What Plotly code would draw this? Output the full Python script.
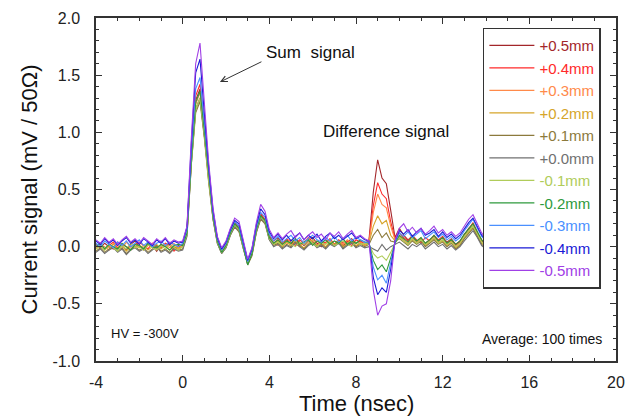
import plotly.graph_objects as go

# ---- data ----
time_ns = [
    -4.0, -3.8, -3.6, -3.4, -3.2, -3.0, -2.8, -2.6, -2.4, -2.2, -2.0, -1.8, -1.6, -1.4, -1.2, -1.0, -0.8, -0.6, -0.4, -0.2, 0.0,
    0.2, 0.4, 0.6, 0.8, 1.0, 1.2, 1.4, 1.6, 1.8, 2.0, 2.2, 2.4, 2.6, 2.8, 3.0, 3.2, 3.4, 3.6, 3.8, 4.0,
    4.2, 4.4, 4.6, 4.8, 5.0, 5.2, 5.4, 5.6, 5.8, 6.0, 6.2, 6.4, 6.6, 6.8, 7.0, 7.2, 7.4, 7.6, 7.8, 8.0, 8.2, 8.4,
    8.6, 8.8, 9.0, 9.2, 9.4, 9.6, 9.8,
    10.0, 10.2, 10.4, 10.6, 10.8, 11.0, 11.2, 11.4, 11.6, 11.8, 12.0, 12.2, 12.4, 12.6, 12.8, 13.0, 13.2, 13.4, 13.6, 13.8, 14.0,
]

sig_p05 = [
    0.02, -0.01, 0.03, 0.00, -0.02, 0.04, 0.01, -0.03, 0.02, 0.05, 0.00, -0.02, 0.03, 0.01, -0.04, 0.02, 0.00, 0.03, -0.02, 0.01, 0.02,
    0.16, 0.80, 1.28, 1.38, 1.04, 0.64, 0.29, 0.07, -0.02, 0.03, 0.13, 0.21, 0.16, 0.00, -0.14, -0.04, 0.16, 0.28, 0.23, 0.09,
    0.05, 0.08, 0.03, 0.06, 0.02, 0.07, 0.04, 0.01, 0.05, 0.08, 0.03, 0.00, 0.04, 0.06, 0.02, 0.05, 0.01, 0.04, 0.07, 0.03, 0.05, 0.02,
    0.06, 0.48, 0.76, 0.60, 0.55, 0.32, 0.08,
    0.16, 0.10, 0.06, 0.09, 0.04, 0.07, 0.03, 0.06, 0.09, 0.05, 0.08, 0.04, 0.07, 0.02, 0.05, 0.10, 0.16, 0.20, 0.12, 0.06, 0.03,
]
sig_p04 = [
    0.00, 0.03, -0.02, 0.01, 0.04, -0.01, 0.02, 0.00, -0.03, 0.02, 0.04, 0.01, -0.02, 0.03, 0.00, -0.01, 0.03, 0.01, -0.04, 0.00, 0.01,
    0.14, 0.82, 1.32, 1.42, 1.06, 0.63, 0.28, 0.06, -0.03, 0.02, 0.14, 0.22, 0.17, 0.02, -0.12, -0.03, 0.17, 0.29, 0.24, 0.10,
    0.03, 0.06, 0.02, 0.07, 0.04, 0.01, 0.06, 0.03, 0.08, 0.04, 0.01, 0.05, 0.03, 0.07, 0.02, 0.06, 0.03, 0.05, 0.01, 0.06, 0.04, 0.03,
    0.05, 0.36, 0.56, 0.46, 0.42, 0.22, 0.07,
    0.12, 0.08, 0.05, 0.10, 0.06, 0.03, 0.08, 0.05, 0.10, 0.06, 0.09, 0.03, 0.06, 0.01, 0.04, 0.11, 0.15, 0.21, 0.13, 0.05, 0.02,
]
sig_p03 = [
    -0.01, 0.02, 0.00, -0.03, 0.03, 0.01, -0.02, 0.04, 0.00, -0.01, 0.02, -0.03, 0.01, 0.03, -0.02, 0.00, 0.02, -0.01, 0.03, -0.02, 0.00,
    0.13, 0.76, 1.24, 1.35, 1.00, 0.60, 0.27, 0.05, -0.04, 0.01, 0.12, 0.19, 0.15, 0.00, -0.14, -0.06, 0.14, 0.26, 0.22, 0.08,
    0.04, 0.01, 0.05, 0.02, 0.06, 0.03, 0.00, 0.04, 0.07, 0.02, 0.05, 0.01, 0.03, 0.06, 0.01, 0.04, 0.02, 0.06, 0.03, 0.00, 0.04, 0.02,
    0.04, 0.30, 0.46, 0.37, 0.34, 0.18, 0.06,
    0.10, 0.06, 0.03, 0.07, 0.04, 0.08, 0.02, 0.05, 0.08, 0.04, 0.06, 0.02, 0.05, 0.00, 0.03, 0.09, 0.14, 0.18, 0.11, 0.04, 0.01,
]
sig_p02 = [
    -0.02, 0.01, -0.03, 0.00, 0.02, -0.02, 0.01, -0.04, 0.00, 0.02, -0.01, 0.01, -0.03, 0.00, 0.02, -0.02, 0.01, -0.03, 0.00, -0.01, 0.00,
    0.12, 0.74, 1.20, 1.30, 0.97, 0.58, 0.25, 0.04, -0.05, 0.00, 0.11, 0.18, 0.14, -0.01, -0.15, -0.07, 0.13, 0.25, 0.21, 0.07,
    0.02, 0.05, 0.00, 0.04, 0.01, 0.05, 0.02, -0.01, 0.03, 0.06, 0.01, 0.03, 0.00, 0.04, 0.02, 0.05, 0.00, 0.03, 0.05, 0.01, 0.03, 0.01,
    0.03, 0.18, 0.27, 0.20, 0.23, 0.10, 0.05,
    0.09, 0.05, 0.02, 0.06, 0.03, 0.06, 0.01, 0.04, 0.07, 0.03, 0.05, 0.01, 0.04, -0.01, 0.02, 0.08, 0.13, 0.17, 0.10, 0.03, 0.00,
]
sig_p01 = [
    -0.04, -0.01, -0.05, -0.02, 0.00, -0.04, -0.01, -0.06, -0.02, 0.00, -0.03, -0.01, -0.05, -0.02, 0.01, -0.04, -0.02, -0.05, -0.01, -0.03, -0.02,
    0.10, 0.72, 1.17, 1.27, 0.95, 0.56, 0.24, 0.03, -0.06, -0.01, 0.10, 0.17, 0.13, -0.02, -0.16, -0.08, 0.12, 0.24, 0.20, 0.06,
    0.01, 0.03, -0.01, 0.02, 0.00, 0.04, 0.01, -0.02, 0.02, 0.04, 0.00, 0.02, -0.01, 0.03, 0.01, 0.04, -0.01, 0.02, 0.04, 0.00, 0.02, 0.00,
    0.02, 0.10, 0.15, 0.08, 0.12, 0.05, 0.04,
    0.07, 0.04, 0.01, 0.05, 0.02, 0.05, 0.00, 0.03, 0.06, 0.02, 0.04, 0.00, 0.03, -0.02, 0.01, 0.07, 0.12, 0.16, 0.09, 0.02, -0.01,
]
sig_p00 = [
    -0.05, -0.02, -0.06, -0.03, -0.01, -0.05, -0.02, -0.07, -0.03, -0.01, -0.04, -0.02, -0.06, -0.03, 0.00, -0.05, -0.03, -0.06, -0.02, -0.04, -0.03,
    0.09, 0.72, 1.20, 1.30, 0.97, 0.57, 0.24, 0.03, -0.06, -0.01, 0.10, 0.18, 0.14, -0.02, -0.15, -0.07, 0.13, 0.25, 0.21, 0.06,
    0.00, 0.02, -0.02, 0.01, -0.01, 0.03, 0.00, -0.03, 0.01, 0.03, -0.01, 0.01, -0.02, 0.02, 0.00, 0.03, -0.02, 0.01, 0.03, -0.01, 0.01, -0.01,
    0.00, -0.02, -0.04, 0.02, -0.03, 0.00, 0.02,
    0.04, 0.01, -0.02, 0.02, 0.00, 0.03, -0.02, 0.01, 0.04, 0.00, 0.02, -0.02, 0.01, -0.03, 0.00, 0.05, 0.10, 0.14, 0.08, 0.01, -0.02,
]
sig_m01 = [
    -0.02, 0.01, -0.03, 0.02, -0.01, -0.04, 0.01, -0.02, 0.03, -0.01, 0.00, -0.03, 0.02, -0.01, -0.03, 0.01, -0.02, 0.02, -0.01, -0.03, 0.00,
    0.11, 0.73, 1.20, 1.30, 0.98, 0.58, 0.26, 0.04, -0.05, 0.00, 0.11, 0.19, 0.15, -0.01, -0.14, -0.06, 0.14, 0.26, 0.22, 0.07,
    0.02, 0.04, 0.01, 0.05, 0.02, 0.00, 0.04, 0.02, 0.06, 0.03, 0.00, 0.04, 0.02, 0.05, 0.01, 0.03, 0.05, 0.02, 0.00, 0.04, 0.02, 0.03,
    0.02, -0.06, -0.10, -0.08, -0.12, -0.05, 0.03,
    0.08, 0.05, 0.02, 0.07, 0.03, 0.06, 0.02, 0.04, 0.08, 0.03, 0.06, 0.02, 0.04, 0.00, 0.03, 0.09, 0.14, 0.18, 0.11, 0.04, 0.01,
]
sig_m02 = [
    0.00, 0.03, -0.02, 0.02, 0.00, -0.02, 0.03, 0.00, -0.03, 0.02, 0.01, -0.02, 0.03, 0.00, -0.01, 0.02, 0.00, -0.03, 0.01, 0.02, 0.01,
    0.12, 0.76, 1.26, 1.36, 1.02, 0.61, 0.27, 0.05, -0.05, 0.01, 0.12, 0.20, 0.16, 0.00, -0.16, -0.06, 0.15, 0.27, 0.23, 0.08,
    0.03, 0.06, 0.02, 0.05, 0.03, 0.07, 0.02, 0.04, 0.06, 0.01, 0.05, 0.03, 0.06, 0.02, 0.05, 0.03, 0.07, 0.02, 0.05, 0.03, 0.06, 0.04,
    0.03, -0.12, -0.20, -0.16, -0.22, -0.10, 0.03,
    0.10, 0.07, 0.04, 0.09, 0.05, 0.08, 0.03, 0.06, 0.10, 0.05, 0.08, 0.03, 0.06, 0.02, 0.05, 0.11, 0.16, 0.20, 0.13, 0.06, 0.02,
]
sig_m03 = [
    0.03, 0.00, 0.05, 0.02, -0.01, 0.04, 0.01, 0.05, 0.00, 0.03, 0.06, 0.01, 0.04, 0.00, 0.03, 0.05, 0.01, 0.04, 0.02, 0.00, 0.03,
    0.15, 0.84, 1.38, 1.48, 1.10, 0.66, 0.30, 0.07, -0.03, 0.03, 0.14, 0.22, 0.18, 0.02, -0.13, -0.03, 0.17, 0.30, 0.26, 0.11,
    0.05, 0.09, 0.04, 0.07, 0.10, 0.05, 0.08, 0.03, 0.07, 0.10, 0.06, 0.04, 0.08, 0.05, 0.09, 0.04, 0.07, 0.10, 0.05, 0.08, 0.06, 0.04,
    0.04, -0.18, -0.29, -0.25, -0.32, -0.15, 0.04,
    0.12, 0.09, 0.13, 0.08, 0.11, 0.14, 0.07, 0.10, 0.13, 0.08, 0.11, 0.06, 0.09, 0.05, 0.08, 0.14, 0.19, 0.24, 0.16, 0.09, 0.05,
]
sig_m04 = [
    0.05, 0.02, 0.07, 0.03, 0.06, 0.01, 0.05, 0.08, 0.03, 0.06, 0.02, 0.07, 0.04, 0.01, 0.06, 0.03, 0.07, 0.02, 0.05, 0.03, 0.04,
    0.17, 0.90, 1.52, 1.64, 1.18, 0.70, 0.32, 0.08, -0.02, 0.04, 0.15, 0.23, 0.20, 0.03, -0.12, -0.02, 0.19, 0.33, 0.28, 0.13,
    0.07, 0.11, 0.06, 0.10, 0.05, 0.09, 0.12, 0.06, 0.10, 0.07, 0.11, 0.05, 0.09, 0.12, 0.07, 0.10, 0.06, 0.09, 0.12, 0.07, 0.09, 0.06,
    0.05, -0.27, -0.42, -0.36, -0.40, -0.20, 0.05,
    0.14, 0.11, 0.15, 0.09, 0.13, 0.16, 0.10, 0.12, 0.15, 0.09, 0.13, 0.08, 0.11, 0.07, 0.10, 0.16, 0.21, 0.25, 0.18, 0.10, 0.06,
]
sig_m05 = [
    0.06, 0.03, 0.08, 0.04, 0.07, 0.02, 0.06, 0.09, 0.04, 0.07, 0.03, 0.08, 0.05, 0.02, 0.07, 0.04, 0.08, 0.03, 0.06, 0.04, 0.05,
    0.18, 0.95, 1.60, 1.78, 1.26, 0.74, 0.34, 0.09, -0.01, 0.05, 0.16, 0.25, 0.22, 0.04, -0.11, -0.01, 0.21, 0.37, 0.31, 0.15,
    0.08, 0.12, 0.07, 0.11, 0.14, 0.08, 0.12, 0.06, 0.10, 0.13, 0.08, 0.11, 0.06, 0.12, 0.09, 0.13, 0.07, 0.11, 0.14, 0.08, 0.10, 0.07,
    0.05, -0.38, -0.60, -0.52, -0.50, -0.30, 0.05,
    0.16, 0.20, 0.13, 0.17, 0.12, 0.16, 0.11, 0.14, 0.18, 0.12, 0.15, 0.10, 0.13, 0.09, 0.12, 0.18, 0.24, 0.28, 0.20, 0.12, 0.07,
]

series_labels = ["+0.5mm", "+0.4mm", "+0.3mm", "+0.2mm", "+0.1mm", "+0.0mm",
                 "-0.1mm", "-0.2mm", "-0.3mm", "-0.4mm", "-0.5mm"]
series_values = [sig_p05, sig_p04, sig_p03, sig_p02, sig_p01, sig_p00,
                 sig_m01, sig_m02, sig_m03, sig_m04, sig_m05]
series_colors = ["#A3262A", "#FF2A2A", "#FF8A4A", "#D6A52A", "#8C7A3C", "#707070",
                 "#B0CC5A", "#2E9A3C", "#4A90FF", "#1A1AD6", "#A040E6"]

x_ticks = [-4, 0, 4, 8, 12, 16, 20]
y_ticks = [-1.0, -0.5, 0.0, 0.5, 1.0, 1.5, 2.0]

FONT = "Arial, 'Liberation Sans', sans-serif"
AX = "#333333"

fig = go.Figure()
for lab, vals, col in zip(series_labels, series_values, series_colors):
    fig.add_trace(go.Scatter(
        x=time_ns, y=vals, mode="lines",
        line=dict(color=col, width=1.1),
        name=f"<span style='color:{col}'>{lab}</span>",
    ))

axis_common = dict(
    showline=True, linecolor=AX, linewidth=1.5, mirror="ticks",
    ticks="inside", ticklen=6, tickwidth=1, tickcolor=AX,
    showgrid=False, zeroline=False, automargin=False,
    ticklabeloverflow="allow",
    tickfont=dict(family=FONT, size=16, color="#222222"),
)

fig.update_xaxes(
    range=[-4, 20], tickvals=x_ticks, ticktext=[str(v) for v in x_ticks],
    minor=dict(dtick=1, ticks="inside", ticklen=3, tickcolor=AX, showgrid=False),
    ticklabelstandoff=6,
    **axis_common,
)
fig.update_yaxes(
    range=[-1.0, 2.0], tickvals=y_ticks, ticktext=[f"{v:.1f}" for v in y_ticks],
    minor=dict(dtick=0.1, ticks="inside", ticklen=3, tickcolor=AX, showgrid=False),
    ticklabelstandoff=11,
    **axis_common,
)

# axis titles
fig.add_annotation(xref="paper", yref="paper", x=0.5, y=-0.124,
                   text="Time (nsec)", showarrow=False,
                   xanchor="center", yanchor="middle",
                   font=dict(family=FONT, size=22, color="#111111"))
fig.add_annotation(xref="paper", yref="paper", x=-0.127, y=0.5,
                   text="Current signal (mV / 50Ω)", showarrow=False, textangle=-90,
                   xanchor="center", yanchor="middle",
                   font=dict(family=FONT, size=22, color="#111111"))

fig.add_annotation(x=3.75, y=1.70, text="Sum&nbsp; signal", showarrow=False,
                   xanchor="left", yanchor="middle",
                   font=dict(family=FONT, size=17, color="#111111"))
fig.add_annotation(x=1.72, y=1.44, ax=43, ay=-21, text="", showarrow=True,
                   arrowhead=5, arrowsize=1.2, arrowwidth=1, arrowcolor="#333333")
fig.add_annotation(x=6.38, y=1.01, text="Difference signal", showarrow=False,
                   xanchor="left", yanchor="middle",
                   font=dict(family=FONT, size=17, color="#111111"))
fig.add_annotation(x=-3.4, y=-0.76, text="HV = -300V", showarrow=False,
                   xanchor="left", yanchor="middle",
                   font=dict(family=FONT, size=13, color="#111111"))
fig.add_annotation(x=19.45, y=-0.81, text="Average: 100 times", showarrow=False,
                   xanchor="right", yanchor="middle",
                   font=dict(family=FONT, size=14, color="#111111"))

# page body has an 8px default margin: size the figure so it fits the 635x420 window
fig.update_layout(
    width=627, height=412,
    margin=dict(l=88, r=19, t=10, b=59),
    paper_bgcolor="white", plot_bgcolor="white",
    showlegend=True,
    legend=dict(
        x=0.744, y=0.972, xanchor="left", yanchor="top",
        bgcolor="white", bordercolor="#333333", borderwidth=1.5,
        font=dict(family=FONT, size=15),
        itemwidth=45, tracegroupgap=0,
    ),
)

fig.write_html("out.html")
